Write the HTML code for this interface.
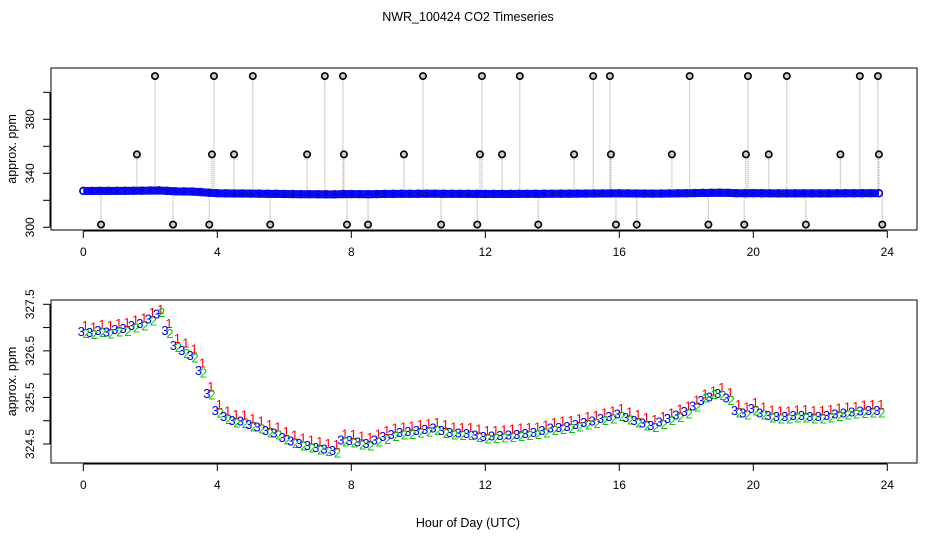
<!DOCTYPE html>
<html><head><meta charset="utf-8"><style>
body{margin:0;background:#fff;}
svg{display:block;font-family:"Liberation Sans",sans-serif;}
</style></head><body>
<svg id="c" width="936" height="540" viewBox="0 0 936 540">
<text x="468" y="21" font-size="12.5" text-anchor="middle">NWR_100424  CO2 Timeseries</text>
<text x="468" y="527" font-size="12.5" text-anchor="middle">Hour of Day (UTC)</text>
<g id="topPanel"></g>
<g id="botPanel"></g>
</svg>
<script>
const hours=[];for(let i=0;i<96;i++)hours.push(i*0.25);
const blueVals=[326.93,326.9,326.95,326.92,326.97,326.99,327.05,327.1,327.2,327.3,326.95,326.63,326.52,326.41,326.09,325.6,325.23,325.1,325.02,325.0,324.93,324.88,324.8,324.75,324.65,324.58,324.52,324.48,324.44,324.4,324.37,324.6,324.59,324.55,324.52,324.6,324.67,324.72,324.76,324.78,324.8,324.82,324.85,324.8,324.76,324.75,324.74,324.7,324.67,324.68,324.69,324.7,324.72,324.74,324.76,324.8,324.85,324.87,324.89,324.93,324.97,325.0,325.06,325.1,325.15,325.08,325.02,324.96,324.91,324.98,325.06,325.13,325.21,325.33,325.45,325.52,325.6,325.5,325.23,325.18,325.27,325.18,325.12,325.1,325.1,325.12,325.12,325.1,325.1,325.12,325.15,325.18,325.2,325.22,325.23,325.23];
const redVals=[327.05,327.02,327.08,327.05,327.1,327.12,327.17,327.22,327.33,327.4,327.1,326.78,326.68,326.55,326.25,325.75,325.36,325.22,325.14,325.13,325.06,325.0,324.93,324.88,324.78,324.7,324.64,324.6,324.56,324.52,324.5,324.73,324.72,324.68,324.65,324.73,324.8,324.85,324.88,324.9,324.93,324.95,324.97,324.93,324.88,324.87,324.86,324.83,324.8,324.8,324.81,324.83,324.85,324.86,324.88,324.92,324.97,325.0,325.02,325.06,325.1,325.12,325.18,325.22,325.27,325.2,325.14,325.08,325.04,325.1,325.18,325.26,325.33,325.46,325.58,325.65,325.72,325.62,325.36,325.3,325.4,325.3,325.24,325.22,325.22,325.24,325.25,325.23,325.23,325.25,325.28,325.3,325.32,325.35,325.36,325.36];
const greenVals=[326.88,326.86,326.9,326.87,326.92,326.93,327.0,327.04,327.15,327.33,326.88,326.58,326.45,326.36,326.04,325.56,325.18,325.04,324.96,324.95,324.88,324.83,324.75,324.7,324.6,324.52,324.47,324.42,324.38,324.35,324.32,324.55,324.53,324.49,324.47,324.55,324.61,324.67,324.7,324.72,324.75,324.77,324.8,324.74,324.7,324.69,324.69,324.65,324.62,324.63,324.64,324.65,324.67,324.69,324.71,324.75,324.8,324.82,324.84,324.88,324.92,324.95,325.01,325.05,325.1,325.03,324.96,324.9,324.86,324.93,325.01,325.08,325.16,325.3,325.5,325.57,325.55,325.44,325.18,325.13,325.22,325.13,325.07,325.05,325.05,325.07,325.07,325.05,325.05,325.07,325.1,325.13,325.15,325.17,325.18,325.18];
const spikeHours=[2.14,3.9,5.06,7.21,7.75,10.14,11.9,13.03,15.22,15.72,18.1,19.84,21.0,23.18,23.72,1.6,3.84,4.5,6.68,7.78,9.57,11.84,12.5,14.65,15.75,17.57,19.78,20.46,22.6,23.75,0.53,2.68,3.76,5.58,7.87,8.5,10.68,11.76,13.58,15.9,16.52,18.66,19.73,21.57,23.85];
const spikeVals=[412,412,412,412,412,412,412,412,412,412,412,412,412,412,412,354,354,354,354,354,354,354,354,354,354,354,354,354,354,354,302,302,302,302,302,302,302,302,302,302,302,302,302,302,302];
const xTicks=[0,4,8,12,16,20,24];
const topYTicks=[300,320,340,360,380,400];
const topYLabels=["300","340","380"];
const botYTicks=[324.5,325,325.5,326,326.5,327,327.5];
const botYLabels=["324.5","325.5","326.5","327.5"];

const NS="http://www.w3.org/2000/svg";
function mk(p,t,a){const e=document.createElementNS(NS,t);for(const k in a)e.setAttribute(k,a[k]);p.appendChild(e);return e;}
const X=h=>83.3+h*33.5;
const Yt=v=>227.3-(v-300)*1.35;
const Yb=v=>444-(v-324.5)*46.57;

function axes(g,y0,y1,yTicks,yLabels,Y,name){
  const box=mk(g,'rect',{x:51,y:y0,width:866,height:y1-y0,fill:'none',stroke:'#000','stroke-width':1});
  
  
  const ax=mk(g,'g',{});
  
  
  mk(ax,'line',{x1:X(0),x2:X(24),y1:y1+1,y2:y1+1,stroke:'#000'});
  xTicks.forEach(t=>{mk(ax,'line',{x1:X(t),x2:X(t),y1:y1+1,y2:y1+8,stroke:'#000'});
    const tx=mk(ax,'text',{x:X(t),y:y1+26,'font-size':12,'text-anchor':'middle'});tx.textContent=t;
    
    });
  const ay=mk(g,'g',{});
  
  
  mk(ay,'line',{x1:50,x2:50,y1:Y(yTicks[0]),y2:Y(yTicks[yTicks.length-1]),stroke:'#000'});
  yTicks.forEach(t=>mk(ay,'line',{x1:43,x2:50,y1:Y(t),y2:Y(t),stroke:'#000'}));
  yLabels.forEach(l=>{const y=Y(parseFloat(l));const tx=mk(ay,'text',{x:0,y:0,'font-size':12,'text-anchor':'middle',transform:`translate(34,${y}) rotate(-90)`});tx.textContent=l;
    
    });
  const yt=mk(g,'text',{x:0,y:0,'font-size':12.5,'text-anchor':'middle',transform:`translate(16,${(y0+y1)/2}) rotate(-90)`});
  yt.textContent='approx. ppm';
  
  
}
const gTop=document.getElementById('topPanel'),gBot=document.getElementById('botPanel');
axes(gTop,68,230,topYTicks,topYLabels,Yt,'top');
axes(gBot,300,463,botYTicks,botYLabels,Yb,'bottom');

spikeHours.forEach((h,i)=>{
  const l=mk(gTop,'line',{x1:X(h),x2:X(h),y1:Yt(326),y2:Yt(spikeVals[i]),stroke:'#aaa','stroke-dasharray':'1,1','stroke-width':1.2});
  
  
});
const bl=mk(gTop,'polyline',{points:hours.map((h,i)=>X(h)+','+Yt(blueVals[i])).join(' '),fill:'none',stroke:'#0000ff','stroke-width':8});


hours.forEach((h,i)=>{
  [[redVals,'#ff0000'],[greenVals,'#00cc00'],[blueVals,'#0000ff']].forEach(([arr,c])=>{
    const p=mk(gTop,'circle',{cx:X(h),cy:Yt(arr[i]),r:3.4,fill:'none',stroke:c,'stroke-width':1.5});
    
    
  });
});
spikeHours.forEach((h,i)=>{
  const c=mk(gTop,'circle',{cx:X(h),cy:Yt(spikeVals[i]),r:3.2,fill:'#ccc',stroke:'#000','stroke-width':1.6});
  
  
});

hours.forEach((h,i)=>{
  [[redVals,'#ff0000','1',2],[greenVals,'#00cc00','2',3],[blueVals,'#0000ff','3',-2]].forEach(([arr,c,s,dx])=>{
    const t=mk(gBot,'text',{x:X(h)+dx,y:Yb(arr[i])+5,fill:c,'font-size':13,'text-anchor':'middle'});
    t.textContent=s;
    
    
  });
});
</script>
</body></html>
